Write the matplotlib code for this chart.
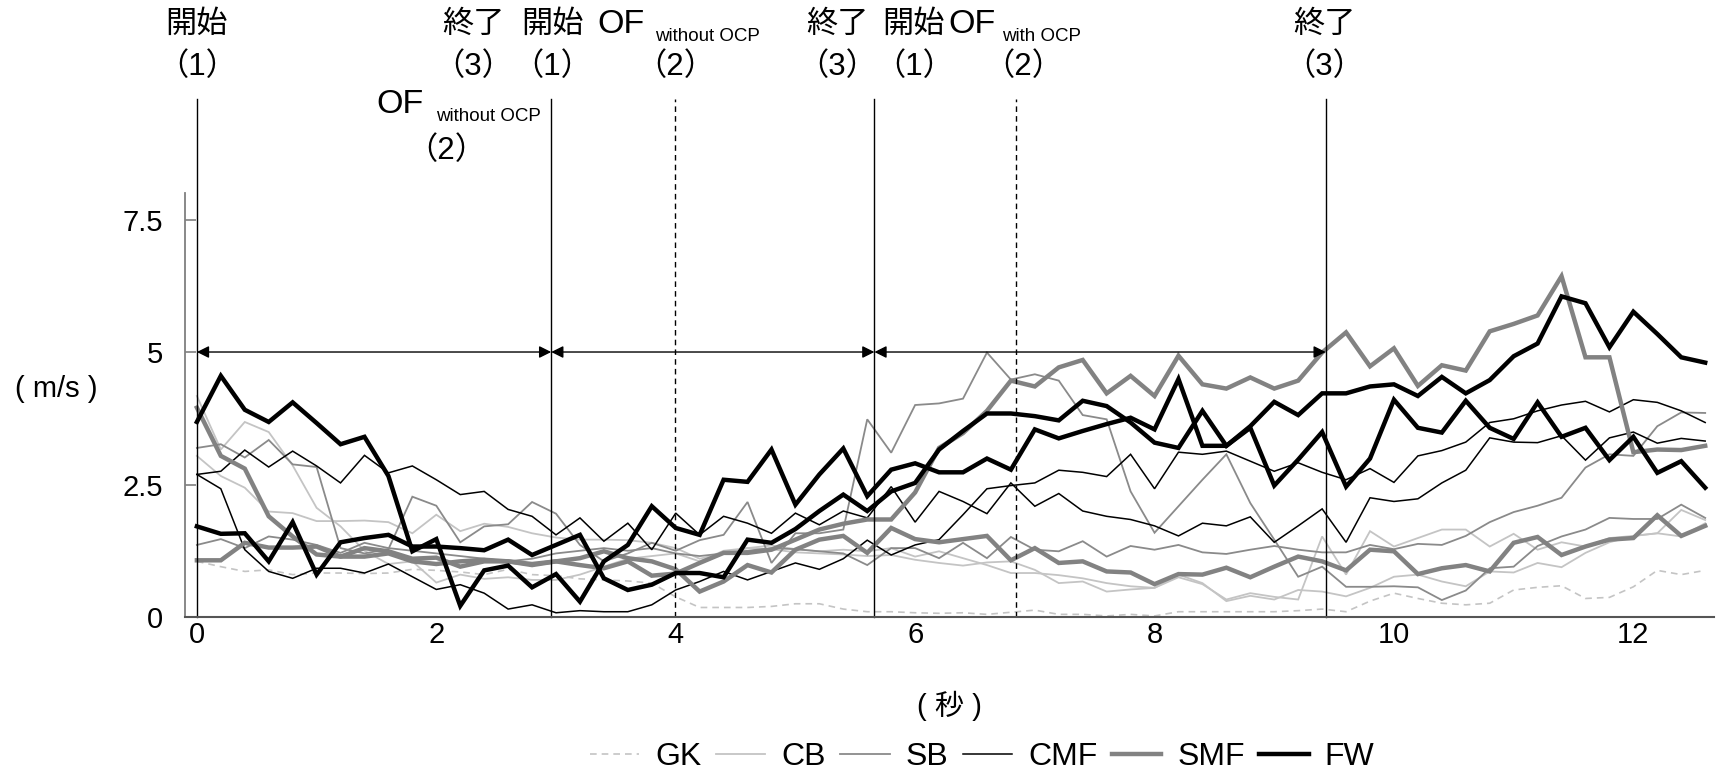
import numpy as np
import matplotlib
matplotlib.use('Agg')
import matplotlib.pyplot as plt
import matplotlib.transforms as mtransforms

plt.rcParams['font.family'] = ['Liberation Sans', 'Noto Sans CJK JP']

# time axis (s), sampled every 0.2 s
t = np.round(np.arange(0, 12.7, 0.2), 1)

gk = [1.05, 0.95, 0.86, 0.89, 0.80, 0.83, 0.83, 0.82, 0.83, 0.90, 0.88, 0.85, 0.80,
      0.90, 0.80, 0.78, 0.72, 0.70, 0.68, 0.64, 0.38, 0.18, 0.18, 0.18, 0.20, 0.25,
      0.25, 0.15, 0.10, 0.10, 0.08, 0.07, 0.08, 0.05, 0.09, 0.13, 0.05, 0.05, 0.02,
      0.05, 0.02, 0.10, 0.10, 0.10, 0.10, 0.10, 0.12, 0.15, 0.10, 0.30, 0.45, 0.35,
      0.26, 0.23, 0.26, 0.51, 0.56, 0.59, 0.35, 0.37, 0.57, 0.88, 0.80, 0.88]

cb1 = [4.17, 3.16, 3.68, 3.49, 2.86, 2.06, 1.71, 1.25, 1.00, 1.05, 0.65, 0.80, 0.72,
       0.75, 0.70, 0.70, 0.80, 0.95, 1.10, 1.15, 1.20, 1.05, 1.25, 1.30, 1.28, 1.22,
       1.20, 1.18, 1.15, 1.17, 1.08, 1.02, 0.97, 1.03, 1.05, 0.89, 0.64, 0.67, 0.48,
       0.52, 0.55, 0.75, 0.62, 0.33, 0.45, 0.38, 0.33, 1.52, 0.80, 1.62, 1.33,
       1.49, 1.65, 1.65, 1.33, 1.57, 1.27, 1.41, 1.33, 1.49, 1.53, 1.58, 1.52, 1.77]
cb2 = [3.04, 2.66, 2.44, 1.99, 1.96, 1.81, 1.81, 1.82, 1.79, 1.58, 1.93, 1.62, 1.76,
       1.70, 1.58, 1.50, 1.46, 1.46, 1.45, 1.40, 1.30, 1.10, 1.20, 1.30, 1.35, 1.28,
       1.24, 1.27, 1.24, 1.30, 1.14, 1.24, 1.11, 0.98, 0.83, 0.83, 0.79, 0.73, 0.64,
       0.58, 0.55, 0.80, 0.64, 0.30, 0.40, 0.33, 0.51, 0.48, 0.39, 0.55, 0.76,
       0.80, 0.67, 0.58, 0.86, 0.84, 1.02, 0.94, 1.21, 1.41, 1.53, 1.58, 2.02, 1.83]

sb1 = [3.19, 3.26, 3.01, 3.34, 2.88, 2.83, 1.30, 1.20, 1.28, 2.27, 2.10, 1.41, 1.71,
       1.75, 2.17, 1.95, 1.36, 1.05, 1.20, 1.40, 1.25, 1.45, 1.55, 2.17, 1.02, 1.58,
       1.58, 1.65, 3.73, 3.10, 4.00, 4.03, 4.12, 4.99, 4.48, 4.58, 4.46, 3.81, 3.73,
       2.37, 1.59, 2.09, 2.59, 3.07, 2.15, 1.46, 0.76, 0.95, 0.57, 0.57, 0.58, 0.56,
       0.32, 0.50, 0.92, 0.95, 1.34, 1.52, 1.65, 1.87, 1.85, 1.85, 2.12, 1.87]
sb2 = [1.36, 1.47, 1.30, 1.52, 1.46, 1.36, 1.21, 1.40, 1.30, 1.25, 1.20, 1.15, 1.10,
       1.05, 1.10, 1.20, 1.25, 1.30, 1.25, 1.30, 1.20, 1.15, 1.20, 1.25, 1.30, 1.28,
       1.24, 1.20, 0.98, 1.30, 1.30, 1.11, 1.40, 1.11, 1.51, 1.27, 1.24, 1.43, 1.14,
       1.34, 1.27, 1.36, 1.22, 1.19, 1.27, 1.34, 1.27, 1.22, 1.22, 1.36, 1.28, 1.38,
       1.36, 1.53, 1.79, 1.98, 2.10, 2.25, 2.82, 3.07, 3.04, 3.60, 3.86, 3.85]

cmf1 = [2.69, 2.75, 3.15, 2.83, 3.13, 2.85, 2.53, 3.05, 2.72, 2.85, 2.59, 2.31, 2.37,
        2.03, 1.90, 1.55, 1.87, 1.43, 1.77, 1.27, 1.96, 1.55, 1.90, 1.77, 1.58, 1.96,
        1.74, 2.00, 1.87, 2.46, 1.79, 2.37, 2.18, 1.95, 2.53, 2.09, 2.33, 2.00, 1.90,
        1.84, 1.72, 1.53, 1.77, 1.72, 1.89, 1.41, 1.72, 2.04, 1.41, 2.25, 2.18, 2.23,
        2.53, 2.77, 3.38, 3.30, 3.29, 3.42, 2.96, 3.38, 3.49, 3.28, 3.37, 3.32]
cmf2 = [2.69, 2.42, 1.27, 0.86, 0.73, 0.92, 0.92, 0.83, 1.00, 0.76, 0.52, 0.61, 0.45,
        0.15, 0.23, 0.08, 0.12, 0.10, 0.10, 0.23, 0.51, 0.67, 0.86, 0.70, 0.86, 1.02,
        0.90, 1.10, 1.45, 1.17, 1.36, 1.46, 1.93, 2.42, 2.48, 2.53, 2.77, 2.73, 2.65,
        3.07, 2.42, 3.11, 3.07, 3.13, 2.94, 2.75, 2.91, 2.73, 2.59, 2.80, 2.54, 3.04,
        3.14, 3.30, 3.67, 3.74, 3.89, 4.00, 4.07, 3.87, 4.10, 4.05, 3.89, 3.67]

smf1 = [3.95, 3.04, 2.80, 1.90, 1.52, 1.18, 1.14, 1.30, 1.24, 1.10, 1.12, 0.95, 1.05,
        1.05, 0.98, 1.05, 1.11, 1.24, 1.11, 1.05, 0.90, 0.48, 0.67, 0.98, 0.84, 1.27,
        1.46, 1.53, 1.21, 1.68, 1.47, 1.41, 1.47, 1.53, 1.07, 1.30, 1.02, 1.05, 0.86,
        0.84, 0.62, 0.81, 0.80, 0.93, 0.75, 0.95, 1.14, 1.05, 0.88, 1.27, 1.24, 0.81,
        0.92, 0.98, 0.86, 1.40, 1.51, 1.17, 1.33, 1.46, 1.49, 1.92, 1.53, 1.72]
smf2 = [1.07, 1.07, 1.40, 1.31, 1.31, 1.33, 1.14, 1.14, 1.20, 1.05, 1.00, 1.05, 1.08,
        1.05, 1.00, 1.05, 0.98, 0.92, 1.05, 0.78, 0.82, 1.02, 1.21, 1.21, 1.27, 1.46,
        1.65, 1.76, 1.84, 1.84, 2.35, 3.19, 3.47, 3.89, 4.46, 4.35, 4.71, 4.85, 4.22,
        4.55, 4.17, 4.93, 4.39, 4.31, 4.52, 4.31, 4.46, 4.99, 5.37, 4.73, 5.07, 4.36,
        4.75, 4.65, 5.39, 5.53, 5.69, 6.43, 4.90, 4.90, 3.11, 3.16, 3.15, 3.23]

fw1 = [3.68, 4.55, 3.91, 3.68, 4.05, 3.66, 3.26, 3.40, 2.66, 1.24, 1.47, 0.21, 0.88,
       0.97, 0.56, 0.81, 0.29, 1.05, 1.36, 2.09, 1.68, 1.55, 2.59, 2.55, 3.16, 2.12,
       2.69, 3.18, 2.28, 2.78, 2.90, 2.73, 2.73, 2.99, 2.78, 3.54, 3.37, 3.51, 3.64,
       3.76, 3.54, 4.49, 3.23, 3.23, 3.57, 2.48, 2.97, 3.49, 2.46, 2.99, 4.10, 3.57,
       3.48, 4.08, 3.57, 3.36, 4.05, 3.40, 3.57, 2.96, 3.40, 2.72, 2.94, 2.44]
fw2 = [1.71, 1.57, 1.58, 1.05, 1.79, 0.80, 1.41, 1.49, 1.55, 1.33, 1.33, 1.30, 1.26,
       1.46, 1.17, 1.36, 1.55, 0.73, 0.51, 0.61, 0.83, 0.83, 0.75, 1.46, 1.40, 1.66,
       2.00, 2.31, 2.00, 2.37, 2.53, 3.16, 3.51, 3.84, 3.84, 3.79, 3.71, 4.08, 3.98,
       3.67, 3.29, 3.19, 3.89, 3.23, 3.60, 4.06, 3.81, 4.22, 4.22, 4.35, 4.39, 4.17,
       4.53, 4.22, 4.47, 4.92, 5.16, 6.05, 5.92, 5.09, 5.76, 5.34, 4.90, 4.80]

# phase markers (s)
start_lines = [0.0, 2.96, 5.66, 9.43]
of_lines = [3.99, 6.84]

fig = plt.figure(figsize=(17.17, 7.77), dpi=100)
ax = fig.add_axes([0.1077, 0.2059, 0.8903, 0.5457])

styles = {
    'GK': dict(color='#c4c4c4', lw=1.2, ls=(0, (4, 3))),
    'CB': dict(color='#c4c4c4', lw=1.3, ls='-'),
    'SB': dict(color='#8a8a8a', lw=1.3, ls='-'),
    'CMF': dict(color='#000000', lw=1.1, ls='-'),
    'SMF': dict(color='#828282', lw=3.2, ls='-'),
    'FW': dict(color='#000000', lw=3.2, ls='-'),
}
series = [('GK', [gk]), ('CB', [cb1, cb2]), ('SB', [sb1, sb2]),
          ('CMF', [cmf1, cmf2]), ('SMF', [smf1, smf2]), ('FW', [fw1, fw2])]

for name, lines in series:
    for k, y in enumerate(lines):
        ax.plot(t, y, label=name if k == 0 else None, solid_joinstyle='miter',
                **styles[name])

ax.set_xlim(-0.1, 12.67)
ax.set_ylim(0, 8.0)
ax.set_yticks([0, 2.5, 5, 7.5])
ax.set_yticklabels(['0', '2.5', '5', '7.5'])
ax.set_xticks(range(0, 13, 2))
ax.tick_params(axis='y', direction='in', length=8, width=1.2, color='#7f7f7f',
               labelsize=21, pad=16)
ax.tick_params(axis='x', length=0, labelsize=21, pad=3)
for s in ['top', 'right']:
    ax.spines[s].set_visible(False)
ax.spines['left'].set_color('#7f7f7f')
ax.spines['bottom'].set_color('#555555')
ax.spines['left'].set_linewidth(1.3)
ax.spines['bottom'].set_linewidth(1.5)

# vertical phase lines, reaching above the axes
for xv in start_lines:
    ax.plot([xv, xv], [0, 9.77], color='black', lw=1.0, clip_on=False)
for xv in of_lines:
    ax.plot([xv, xv], [0, 9.77], color='black', lw=1.0, ls=(0, (4, 3)), clip_on=False)

# double arrows at 5 m/s
for x0, x1 in zip(start_lines[:-1], start_lines[1:]):
    ax.annotate('', xy=(x1, 5), xytext=(x0, 5),
                arrowprops=dict(arrowstyle='<|-|>', color='black', lw=1.0,
                                mutation_scale=18, shrinkA=0, shrinkB=0))

tr = mtransforms.blended_transform_factory(ax.transData, fig.transFigure)
fs = 22.5
top_y, low_y = 0.968, 0.914
labels_top = [(0.0, '開始', '（1）'), (2.31, '終了', '（3）'), (2.97, '開始', '（1）'),
              (5.35, '終了', '（3）'), (5.99, '開始', '（1）'), (9.42, '終了', '（3）')]
for xv, a, b in labels_top:
    ax.text(xv, top_y, a, transform=tr, ha='center', va='center', fontsize=fs)
    ax.text(xv, low_y, b, transform=tr, ha='center', va='center', fontsize=fs)

# "OF" with subscript, drawn as two pieces
of_labels = [(3.74, 3.83, 0.969, 0.953, 'without OCP', 4.0, low_y),
             (6.67, 6.73, 0.969, 0.953, 'with OCP', 6.9, low_y),
             (1.89, 2.00, 0.865, 0.850, 'without OCP', 2.08, 0.806)]
for x_of, x_sub, y_of, y_sub, sub, x2, y2 in of_labels:
    ax.text(x_of, y_of, 'OF', transform=tr, ha='right', va='center', fontsize=24.5)
    ax.text(x_sub, y_sub, sub, transform=tr, ha='left', va='center', fontsize=13.5)
    ax.text(x2, y2, '（2）', transform=tr, ha='center', va='center', fontsize=fs)

fig.text(0.033, 0.499, '( m/s )', ha='center', va='center', fontsize=21)
fig.text(0.553, 0.091, '( 秒 )', ha='center', va='center', fontsize=21)

fig.legend(loc='center', bbox_to_anchor=(0.572, 0.026), ncol=6, frameon=False,
           fontsize=23, handlelength=1.55, handletextpad=0.5, columnspacing=0.45)

fig.savefig('out.png', dpi=100)
